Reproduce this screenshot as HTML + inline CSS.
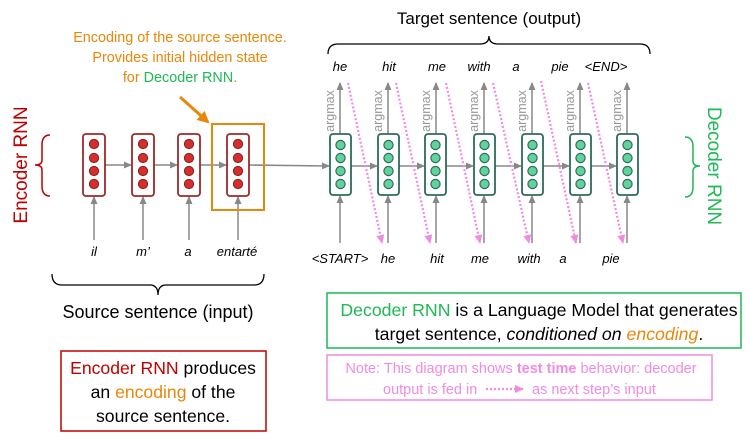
<!DOCTYPE html>
<html><head><meta charset="utf-8"><style>
html,body{margin:0;padding:0;background:#fff;}
svg{display:block;font-family:"Liberation Sans",sans-serif;}
</style></head><body>
<svg width="748" height="436" viewBox="0 0 748 436" xmlns="http://www.w3.org/2000/svg">
<defs>
<marker id="ga" markerWidth="8" markerHeight="8" refX="7" refY="4" orient="auto" markerUnits="userSpaceOnUse"><path d="M0,0.5 L8,4 L0,7.5 z" fill="#888"/></marker>
<marker id="pa" markerWidth="9" markerHeight="9" refX="8" refY="4.5" orient="auto" markerUnits="userSpaceOnUse"><path d="M0,0.5 L9,4.5 L0,8.5 z" fill="#f28be0"/></marker>
<marker id="oa" markerWidth="12" markerHeight="12" refX="10" refY="6" orient="auto" markerUnits="userSpaceOnUse"><path d="M0,0 L12,6 L0,12 z" fill="#e8870a"/></marker>
<g id="ec"><rect x="0" y="0" width="22" height="62" rx="3" fill="#fff" stroke="#9b2a2a" stroke-width="1.8"/>
<circle cx="11" cy="10" r="4.6" fill="#d32f2f" stroke="#8b1a1a" stroke-width="1"/><circle cx="11" cy="24" r="4.6" fill="#d32f2f" stroke="#8b1a1a" stroke-width="1"/><circle cx="11" cy="37" r="4.6" fill="#d32f2f" stroke="#8b1a1a" stroke-width="1"/><circle cx="11" cy="50" r="4.6" fill="#d32f2f" stroke="#8b1a1a" stroke-width="1"/></g>
<g id="dc"><rect x="0" y="0" width="21" height="61" rx="3" fill="#fff" stroke="#2e6b5a" stroke-width="1.8"/>
<circle cx="10.5" cy="11" r="4.6" fill="#5fd39a" stroke="#2e6b5a" stroke-width="1.2"/><circle cx="10.5" cy="24" r="4.6" fill="#5fd39a" stroke="#2e6b5a" stroke-width="1.2"/><circle cx="10.5" cy="37" r="4.6" fill="#5fd39a" stroke="#2e6b5a" stroke-width="1.2"/><circle cx="10.5" cy="50" r="4.6" fill="#5fd39a" stroke="#2e6b5a" stroke-width="1.2"/></g>
</defs>

<g fill="#e8870a" font-size="14.4" text-anchor="middle">
<text x="180" y="42">Encoding of the source sentence.</text>
<text x="180" y="62">Provides initial hidden state</text>
<text x="180" y="82">for <tspan fill="#1db954">Decoder RNN</tspan>.</text>
</g>
<line x1="180" y1="97" x2="208" y2="122" stroke="#e8870a" stroke-width="3" marker-end="url(#oa)"/>

<text transform="translate(27,165) rotate(-90)" text-anchor="middle" font-size="19" fill="#c00000">Encoder RNN</text>
<path d="M50,135 Q42,135 42,145 L42,160 Q42,165 35,165 Q42,165 42,170 L42,186 Q42,196 50,196" fill="none" stroke="#c00000" stroke-width="1.5"/>

<g stroke="#888" stroke-width="1.5" fill="none">
<line x1="105" y1="165" x2="131" y2="165" marker-end="url(#ga)"/>
<line x1="154" y1="165" x2="177" y2="165" marker-end="url(#ga)"/>
<line x1="200" y1="165" x2="226" y2="165" marker-end="url(#ga)"/>
<line x1="249" y1="165" x2="329" y2="166" marker-end="url(#ga)"/>
<line x1="351" y1="166" x2="377" y2="166" marker-end="url(#ga)"/>
<line x1="399" y1="166" x2="424" y2="166" marker-end="url(#ga)"/>
<line x1="446" y1="166" x2="473" y2="166" marker-end="url(#ga)"/>
<line x1="495" y1="166" x2="521" y2="166" marker-end="url(#ga)"/>
<line x1="543" y1="166" x2="569" y2="166" marker-end="url(#ga)"/>
<line x1="591" y1="166" x2="616" y2="166" marker-end="url(#ga)"/>
<line x1="94" y1="240" x2="94" y2="197" marker-end="url(#ga)"/>
<line x1="143" y1="240" x2="143" y2="197" marker-end="url(#ga)"/>
<line x1="189" y1="240" x2="189" y2="197" marker-end="url(#ga)"/>
<line x1="238" y1="240" x2="238" y2="197" marker-end="url(#ga)"/>
<line x1="340" y1="243" x2="340" y2="196" marker-end="url(#ga)"/>
<line x1="388" y1="243" x2="388" y2="196" marker-end="url(#ga)"/>
<line x1="436" y1="243" x2="436" y2="196" marker-end="url(#ga)"/>
<line x1="484" y1="243" x2="484" y2="196" marker-end="url(#ga)"/>
<line x1="532" y1="243" x2="532" y2="196" marker-end="url(#ga)"/>
<line x1="580" y1="243" x2="580" y2="196" marker-end="url(#ga)"/>
<line x1="627" y1="243" x2="627" y2="196" marker-end="url(#ga)"/>
<line x1="340" y1="134" x2="340" y2="83" marker-end="url(#ga)"/>
<line x1="388" y1="134" x2="388" y2="83" marker-end="url(#ga)"/>
<line x1="436" y1="134" x2="436" y2="83" marker-end="url(#ga)"/>
<line x1="484" y1="134" x2="484" y2="83" marker-end="url(#ga)"/>
<line x1="532" y1="134" x2="532" y2="83" marker-end="url(#ga)"/>
<line x1="580" y1="134" x2="580" y2="83" marker-end="url(#ga)"/>
<line x1="627" y1="134" x2="627" y2="83" marker-end="url(#ga)"/>
</g>

<use href="#ec" x="83" y="134"/><use href="#ec" x="132" y="134"/><use href="#ec" x="178" y="134"/><use href="#ec" x="227" y="134"/>
<rect x="212" y="124" width="52" height="86" fill="none" stroke="#e8870a" stroke-width="2"/>
<use href="#dc" x="330" y="134"/><use href="#dc" x="378" y="134"/><use href="#dc" x="425" y="134"/><use href="#dc" x="474" y="134"/><use href="#dc" x="522" y="134"/><use href="#dc" x="570" y="134"/><use href="#dc" x="617" y="134"/>

<g fill="#999" font-size="12.5" text-anchor="middle">
<text transform="translate(334,111) rotate(-90)">argmax</text>
<text transform="translate(382,111) rotate(-90)">argmax</text>
<text transform="translate(430,111) rotate(-90)">argmax</text>
<text transform="translate(478,111) rotate(-90)">argmax</text>
<text transform="translate(526,111) rotate(-90)">argmax</text>
<text transform="translate(574,111) rotate(-90)">argmax</text>
<text transform="translate(621,111) rotate(-90)">argmax</text>
</g>

<g stroke="#f28be0" stroke-width="2.2" stroke-dasharray="2,2" fill="none">
<line x1="348" y1="83" x2="382" y2="243" marker-end="url(#pa)"/>
<line x1="396" y1="83" x2="430" y2="243" marker-end="url(#pa)"/>
<line x1="446" y1="83" x2="480" y2="243" marker-end="url(#pa)"/>
<line x1="493" y1="83" x2="529" y2="243" marker-end="url(#pa)"/>
<line x1="541" y1="81" x2="576" y2="243" marker-end="url(#pa)"/>
<line x1="588" y1="83" x2="623" y2="243" marker-end="url(#pa)"/>
</g>

<g font-size="13" font-style="italic" fill="#000" text-anchor="middle">
<text x="94" y="256">il</text><text x="143" y="256">m’</text><text x="188" y="256">a</text><text x="237" y="256">entarté</text>
<text x="340" y="71">he</text><text x="389" y="71">hit</text><text x="437" y="71">me</text><text x="479" y="71">with</text><text x="516" y="71">a</text><text x="560" y="71">pie</text><text x="606" y="71">&lt;END&gt;</text>
<text x="340" y="263">&lt;START&gt;</text><text x="388" y="263">he</text><text x="437" y="263">hit</text><text x="480" y="263">me</text><text x="529" y="263">with</text><text x="563" y="263">a</text><text x="611" y="263">pie</text>
</g>

<path d="M328,54 Q328,44 338,44 L480,44 Q489,44 489,36 Q489,44 498,44 L640,44 Q650,44 650,54" fill="none" stroke="#000" stroke-width="1.3"/>
<text x="489" y="24" font-size="17" text-anchor="middle">Target sentence (output)</text>

<path d="M685,137 Q693,137 693,147 L693,161 Q693,166 700,166 Q693,166 693,171 L693,187 Q693,197 685,197" fill="none" stroke="#1db954" stroke-width="1.5"/>
<text transform="translate(708,166) rotate(90)" text-anchor="middle" font-size="19" fill="#1db954">Decoder RNN</text>

<path d="M52,274 Q52,285 62,285 L150,285 Q158,285 158,295 Q158,285 166,285 L254,285 Q264,285 264,274" fill="none" stroke="#000" stroke-width="1.3"/>
<text x="158" y="318" font-size="18" text-anchor="middle">Source sentence (input)</text>

<rect x="61" y="351" width="205" height="80" fill="#fff" stroke="#c00000" stroke-width="1.5"/>
<g font-size="17.6" text-anchor="middle">
<text x="163" y="374"><tspan fill="#c00000">Encoder RNN</tspan> produces</text>
<text x="163" y="398">an <tspan fill="#e8870a">encoding</tspan> of the</text>
<text x="163" y="422">source sentence.</text>
</g>

<rect x="327" y="293" width="414" height="55" fill="#fff" stroke="#1db954" stroke-width="1.5"/>
<g font-size="17.7" text-anchor="middle">
<text x="539" y="316"><tspan fill="#1db954">Decoder RNN</tspan> is a Language Model that generates</text>
<text x="539" y="340">target sentence, <tspan font-style="italic">conditioned on <tspan fill="#e8870a">encoding</tspan></tspan>.</text>
</g>

<rect x="327" y="355" width="385" height="45" fill="#fff" stroke="#f28be0" stroke-width="1.5"/>
<g font-size="14.5" fill="#f28be0">
<text x="521" y="373" text-anchor="middle">Note: This diagram shows <tspan font-weight="bold">test time</tspan> behavior: decoder</text>
<text x="383" y="394">output is fed in</text>
<text x="532" y="394">as next step’s input</text>
</g>
<line x1="486" y1="389" x2="523" y2="389" stroke="#f28be0" stroke-width="2.2" stroke-dasharray="2,2" marker-end="url(#pa)"/>
</svg>
</body></html>
